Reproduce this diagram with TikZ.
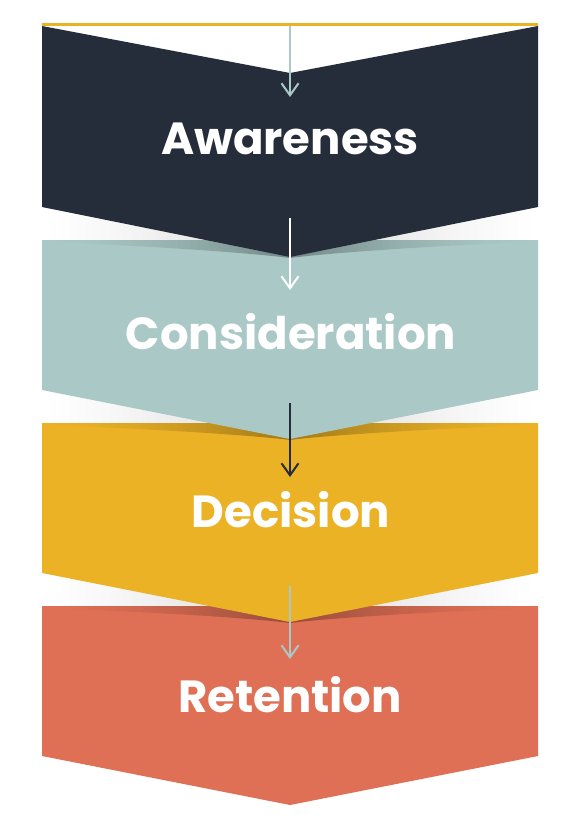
\documentclass[tikz,border=0pt]{standalone}
\usepackage{fontspec}
\newfontfamily\stagefont{Poppins}[UprightFont=* SemiBold, BoldFont=* Bold]
\usetikzlibrary{arrows.meta}
\definecolor{navy}{HTML}{252D3A}
\definecolor{teal}{HTML}{AAC9C6}
\definecolor{gold}{HTML}{ECB226}
\definecolor{coral}{HTML}{DF7055}
\tikzset{
  stagetext/.style={text=white, anchor=base, inner sep=0pt, font=\stagefont\bfseries\fontsize{45}{54}\selectfont},
  flowarrow/.style={line width=2pt, -{Straight Barb[length=12pt,width=17pt,line width=2pt]}},
}
% #1 = chevron side y, #2 = next box top y, #3 = apex y
\newcommand\fsShadow[3]{%
  \begin{scope}
    \clip (42,#1) rectangle (538,#2);
    \foreach \i in {0,...,123} {
      \pgfmathsetmacro\xa{42+4*\i}
      \pgfmathsetmacro\op{0.16*(max(0,1-abs(\xa+2-290)/248))^1.3}
      \fill[black, opacity=\op] (\xa,#1) rectangle ({\xa+4.3},#2);
    }
  \end{scope}
  \begin{scope}
    \clip (42,#2) -- (538,#2) -- (538,#2+2) .. controls (420,#2+6) and (320,#3-3) .. (290,#3+1) .. controls (260,#3-3) and (160,#2+6) .. (42,#2+2) -- cycle;
    \foreach \i in {0,...,123} {
      \pgfmathsetmacro\xa{42+4*\i}
      \pgfmathsetmacro\op{0.32*(max(0,1-abs(\xa+2-290)/248))^1.6}
      \fill[black, opacity=\op] (\xa,#2) rectangle ({\xa+4.3},#3+2);
    }
  \end{scope}
}
\begin{document}
\begin{tikzpicture}[x=1pt,y=-1pt]
\useasboundingbox (0,0) rectangle (580,829);
% Retention
\fill[coral] (42,606) -- (538,606) -- (538,756) -- (290,805) -- (42,756) -- cycle;
\fsShadow{573}{606}{622}
% Decision
\fill[gold] (42,423) -- (538,423) -- (538,573) -- (290,622) -- (42,573) -- cycle;
\fsShadow{390}{423}{439}
% Consideration
\fill[teal] (42,240) -- (538,240) -- (538,390) -- (290,439) -- (42,390) -- cycle;
\fsShadow{207}{240}{257}
% Awareness
\fill[navy] (42,26) -- (290,73) -- (538,26) -- (538,207) -- (290,257) -- (42,207) -- cycle;
% top rule
\draw[gold, line width=3pt] (42,24.5) -- (538,24.5);
% labels
\node[stagetext] (aw) at (290,155) {Awareness};
\node[stagetext] (co) at (291,349) {Consideration};
\node[stagetext] (de) at (291,527) {Decision};
\node[stagetext] (re) at (290,712) {Retention};
% arrow endpoints
\coordinate (a1s) at (290,26);  \coordinate (a1e) at (290,97);
\coordinate (a2s) at (290,218); \coordinate (a2e) at (290,290);
\coordinate (a3s) at (290,403); \coordinate (a3e) at (290,477);
\coordinate (a4s) at (290,586); \coordinate (a4e) at (290,659);
\draw[flowarrow, teal] (a1s) -- (a1e);
\draw[flowarrow, white] (a2s) -- (a2e);
\draw[flowarrow, navy] (a3s) -- (a3e);
\draw[flowarrow, teal] (a4s) -- (a4e);
\end{tikzpicture}
\end{document}
